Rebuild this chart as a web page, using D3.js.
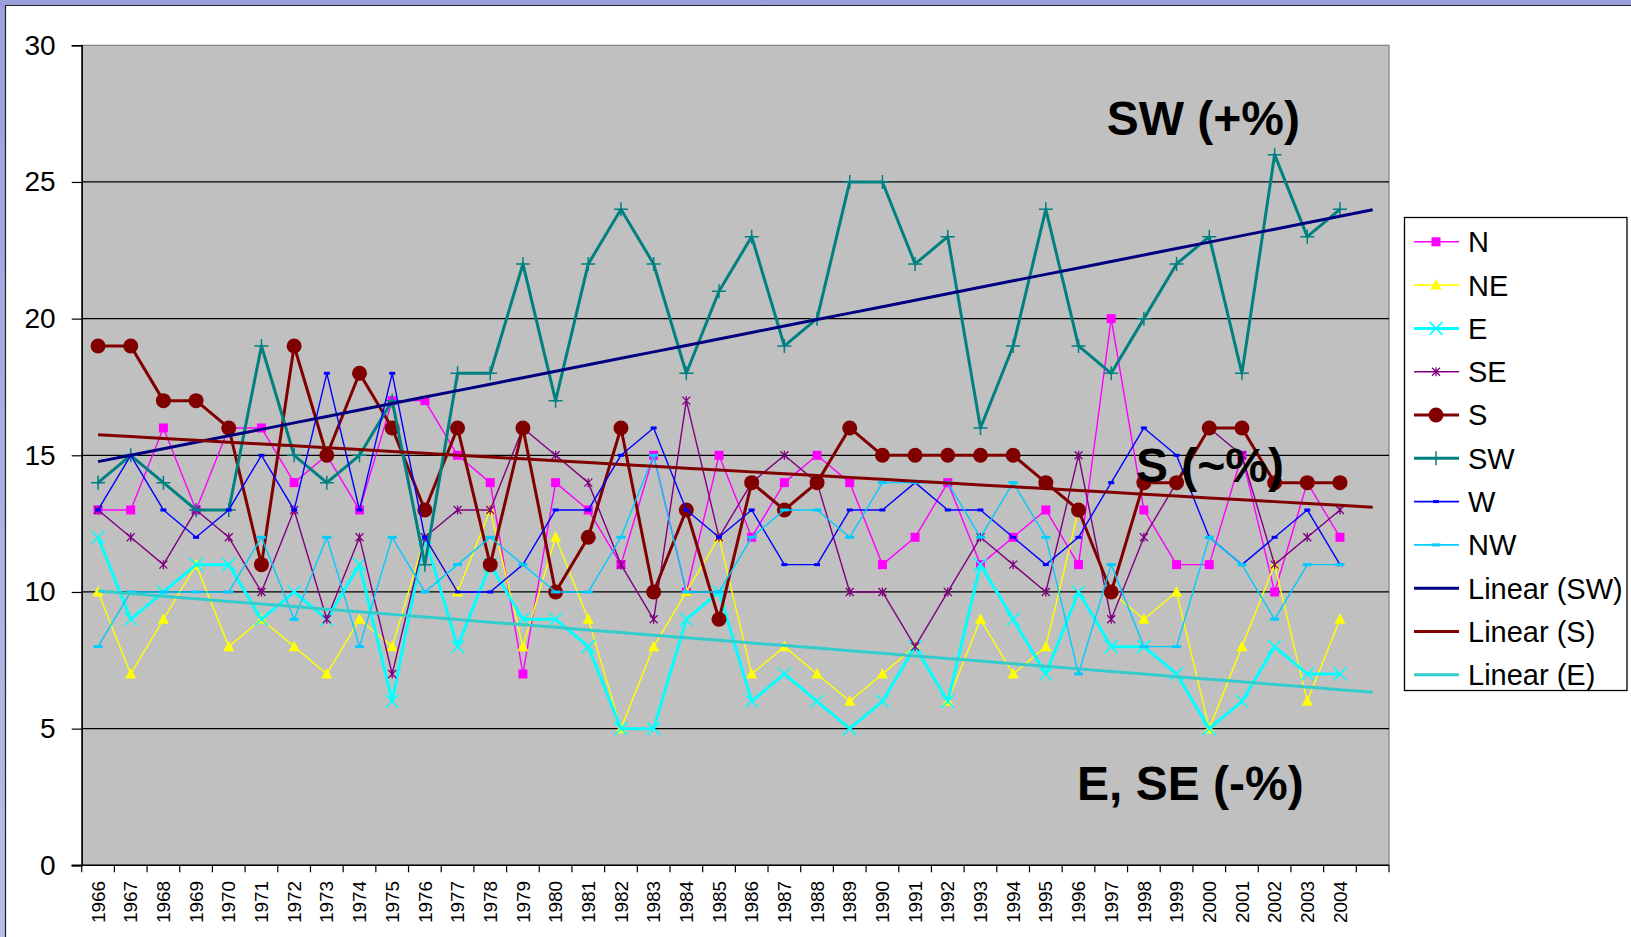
<!DOCTYPE html>
<html lang="en">
<head>
    <title>Wind direction frequency 1966-2004</title>
    <script src="https://d3js.org/d3.v7.min.js"></script>
    <style>
        body { margin: 0; background: #fff; overflow: hidden; }
        svg { display: block; }
        text { font-family: "Liberation Sans", Arial, sans-serif; }
    </style>
</head>
<body>
<svg width="1631" height="937" id="mainsvg"></svg>

<script>
    // year labels (one extra empty slot at the end, like the excel axis)
    const years = ['1966','1967','1968','1969','1970','1971','1972','1973','1974','1975',
        '1976','1977','1978','1979','1980','1981','1982','1983','1984','1985',
        '1986','1987','1988','1989','1990','1991','1992','1993','1994','1995',
        '1996','1997','1998','1999','2000','2001','2002','2003','2004']
    const categories = years.concat([''])

    const yTicks = [0, 5, 10, 15, 20, 25, 30]

    // % of days by wind direction
    const N  = [13,13,16,13,16,16,14,15,13,17, 17,15,14,7,14,13,11,15,10,15, 12,14,15,14,11,12,14,11,12,13, 11,20,13,11,11,15,10,14,12]
    const NE = [10,7,9,11,8,9,8,7,9,8, 12,10,13,8,12,9,5,8,10,12, 7,8,7,6,7,8,6,9,7,8, 13,10,9,10,5,8,11,6,9]
    const E  = [12,9,10,11,11,9,10,9,11,6, 12,8,11,9,9,8,5,5,9,10, 6,7,6,5,6,8,6,11,9,7, 10,8,8,7,5,6,8,7,7]
    const SE = [13,12,11,13,12,10,13,9,12,7, 12,13,13,16,15,14,11,9,17,12, 14,15,14,10,10,8,10,12,11,10, 15,9,12,14,16,15,11,12,13]
    const S  = [19,19,17,17,16,11,19,15,18,16, 13,16,11,16,10,12,16,10,13,9, 14,13,14,16,15,15,15,15,15,14, 13,10,14,14,16,16,14,14,14]
    const SW = [14,15,14,13,13,19,15,14,15,17, 11,18,18,22,17,22,24,22,18,21, 23,19,20,25,25,22,23,16,19,24, 19,18,20,22,23,18,26,23,24]
    const W  = [13,15,13,12,13,15,13,18,13,18, 12,10,10,11,13,13,15,16,13,12, 13,11,11,13,13,14,13,13,12,11, 12,14,16,15,12,11,12,13,11]
    const NW = [8,10,10,10,10,12,9,12,8,12, 10,11,12,11,10,10,12,15,10,10, 12,13,13,12,14,14,14,12,14,12, 7,11,8,8,12,11,9,11,11]

    const series = [
        {name: 'N',  values: N,  color: '#FF00FF', width: 1.4, marker: 'square'},
        {name: 'NE', values: NE, color: '#FFFF00', width: 1.4, marker: 'triangle'},
        {name: 'E',  values: E,  color: '#00FFFF', width: 3,   marker: 'x'},
        {name: 'SE', values: SE, color: '#800080', width: 1.4, marker: 'star'},
        {name: 'S',  values: S,  color: '#800000', width: 3,   marker: 'circle'},
        {name: 'SW', values: SW, color: '#008080', width: 3,   marker: 'plus'},
        {name: 'W',  values: W,  color: '#0000FF', width: 1.4, marker: 'dash'},
        {name: 'NW', values: NW, color: '#00CCFF', width: 1.4, marker: 'longdash'}
    ]
    const trends = [
        {name: 'Linear (SW)', values: SW, color: '#000080'},
        {name: 'Linear (S)',  values: S,  color: '#800000'},
        {name: 'Linear (E)',  values: E,  color: '#33CCCC'}
    ]

    const svg = d3.select('#mainsvg')
    const width = +svg.attr('width')
    const height = +svg.attr('height')

    // slide frame
    const grad = svg.append('defs').append('linearGradient').attr('id', 'frame')
        .attr('x1', 0).attr('y1', 0).attr('x2', 0).attr('y2', 1)
    grad.append('stop').attr('offset', '0%').attr('stop-color', '#9ca0dc')
    grad.append('stop').attr('offset', '100%').attr('stop-color', '#b9bdea')
    svg.append('rect').attr('width', width).attr('height', height).attr('fill', 'url(#frame)')
    svg.append('rect').attr('x', 5.5).attr('y', 5.5).attr('width', width - 5.5).attr('height', height - 5.5)
        .attr('fill', '#fff')
    svg.append('path').attr('d', `M5.5,${height}V5.5H${width}`)
        .attr('fill', 'none').attr('stroke', '#222').attr('stroke-width', 1.2)

    const margin = {top: 45.3, right: 242, bottom: 71.7, left: 81.7}
    const innerWidth = width - margin.left - margin.right
    const innerHeight = height - margin.top - margin.bottom

    const xScale = d3.scaleBand().domain(categories).range([0, innerWidth]).padding(0)
    const yScale = d3.scaleLinear().domain([0, 30]).range([innerHeight, 0])
    const cx = i => xScale(categories[i]) + xScale.bandwidth() / 2

    const g = svg.append('g').attr('transform', `translate(${margin.left}, ${margin.top})`)

    g.append('rect').attr('width', innerWidth).attr('height', innerHeight)
        .attr('fill', '#C0C0C0').attr('stroke', '#808080').attr('stroke-width', 1.2)

    // gridlines
    g.selectAll('.grid').data(yTicks.filter(t => t > 0 && t < 30)).join('line')
        .attr('x1', 0).attr('x2', innerWidth)
        .attr('y1', d => yScale(d)).attr('y2', d => yScale(d))
        .attr('stroke', '#000').attr('stroke-width', 1.2)

    // y axis
    const yAxis = d3.axisLeft(yScale).tickValues(yTicks).tickSize(10).tickPadding(16)
    const yAxisGroup = g.append('g').call(yAxis)
    yAxisGroup.selectAll('.domain').attr('stroke', '#000').attr('stroke-width', 1.5)
    yAxisGroup.selectAll('.tick line').attr('stroke', '#000').attr('stroke-width', 1.2)
    yAxisGroup.selectAll('.tick text').attr('font-size', '28px').attr('fill', '#000')
        .attr('font-family', '"Liberation Sans", Arial, sans-serif')

    // x axis: ticks between categories, labels rotated
    const xAxisGroup = g.append('g').attr('transform', `translate(0, ${innerHeight})`)
    xAxisGroup.append('line').attr('x1', -10).attr('x2', innerWidth)
        .attr('stroke', '#000').attr('stroke-width', 1.5)
    xAxisGroup.selectAll('.xtick').data(d3.range(categories.length + 1)).join('line')
        .attr('x1', i => i * xScale.bandwidth()).attr('x2', i => i * xScale.bandwidth())
        .attr('y1', 0).attr('y2', 7).attr('stroke', '#000').attr('stroke-width', 1.2)
    xAxisGroup.selectAll('.xlabel').data(years).join('text')
        .attr('transform', (d, i) => `translate(${cx(i)}, 15.5) rotate(-90)`)
        .attr('text-anchor', 'end').attr('dy', '0.35em')
        .attr('font-size', '19px').attr('fill', '#000')
        .text(d => d)

    // marker drawing
    function drawMarker(sel, type, color) {
        if (type === 'square') {
            sel.append('rect').attr('x', -4.5).attr('y', -4.5).attr('width', 9).attr('height', 9).attr('fill', color)
        } else if (type === 'triangle') {
            sel.append('path').attr('d', 'M0,-6L5.5,4.5L-5.5,4.5Z').attr('fill', color)
        } else if (type === 'x') {
            sel.append('path').attr('d', 'M-6.5,-6.5L6.5,6.5M-6.5,6.5L6.5,-6.5').attr('stroke', color).attr('stroke-width', 1.5)
        } else if (type === 'star') {
            sel.append('path').attr('d', 'M-4,-4L4,4M-4,4L4,-4M0,-4.5L0,4.5').attr('stroke', color).attr('stroke-width', 1.3)
        } else if (type === 'circle') {
            sel.append('circle').attr('r', 7.5).attr('fill', color)
        } else if (type === 'plus') {
            sel.append('path').attr('d', 'M-7,0L7,0M0,-7L0,7').attr('stroke', color).attr('stroke-width', 1.5)
        } else if (type === 'dash') {
            sel.append('rect').attr('x', -3).attr('y', -1.5).attr('width', 6).attr('height', 3).attr('fill', color)
        } else if (type === 'longdash') {
            sel.append('rect').attr('x', -4.5).attr('y', -1.5).attr('width', 9).attr('height', 3).attr('fill', color)
        }
    }

    const line = d3.line().x((d, i) => cx(i)).y(d => yScale(d))

    series.forEach(s => {
        const sg = g.append('g')
        sg.append('path').datum(s.values).attr('d', line)
            .attr('fill', 'none').attr('stroke', s.color).attr('stroke-width', s.width)
            .attr('stroke-linejoin', 'round')
        s.values.forEach((v, i) => {
            const m = sg.append('g').attr('transform', `translate(${cx(i)}, ${yScale(v)})`)
            drawMarker(m, s.marker, s.color)
        })
    })

    // linear trendlines, forward one period
    function linearTrend(vals) {
        const n = vals.length
        const xs = d3.range(1, n + 1)
        const mx = d3.mean(xs), my = d3.mean(vals)
        const b = d3.sum(xs, (x, i) => (x - mx) * (vals[i] - my)) / d3.sum(xs, x => (x - mx) * (x - mx))
        const a = my - b * mx
        return d3.range(1, n + 2).map(x => a + b * x)
    }
    trends.forEach(t => {
        g.append('path').datum(linearTrend(t.values)).attr('d', line)
            .attr('fill', 'none').attr('stroke', t.color).attr('stroke-width', 3)
    })

    // annotations
    const notes = [
        {text: 'SW (+%)', x: 1106.7, y: 135},
        {text: 'S (~%)', x: 1136, y: 482},
        {text: 'E, SE (-%)', x: 1077, y: 800}
    ]
    svg.selectAll('.note').data(notes).join('text')
        .attr('x', d => d.x).attr('y', d => d.y)
        .attr('font-size', '48px').attr('font-weight', 'bold').attr('fill', '#000')
        .text(d => d.text)

    // legend
    const legend = svg.append('g')
    legend.append('rect').attr('x', 1404.5).attr('y', 217.5).attr('width', 222.5).attr('height', 473)
        .attr('fill', '#fff').attr('stroke', '#000').attr('stroke-width', 1.3)
    const items = series.map(s => ({name: s.name, color: s.color, width: s.width > 2 ? 3 : 1.6, marker: s.marker}))
        .concat(trends.map(t => ({name: t.name, color: t.color, width: 3, marker: null})))
    items.forEach((d, i) => {
        const y = 241.8 + i * 43.3
        const row = legend.append('g').attr('transform', `translate(1414, ${y})`)
        row.append('line').attr('x1', 0).attr('x2', 45).attr('stroke', d.color).attr('stroke-width', d.width)
        if (d.marker) drawMarker(row.append('g').attr('transform', 'translate(22, 0)'), d.marker, d.color)
        row.append('text').attr('x', 54).attr('dy', '0.36em')
            .attr('font-size', '29px').attr('fill', '#000').text(d.name)
    })
</script>
</body>
</html>
